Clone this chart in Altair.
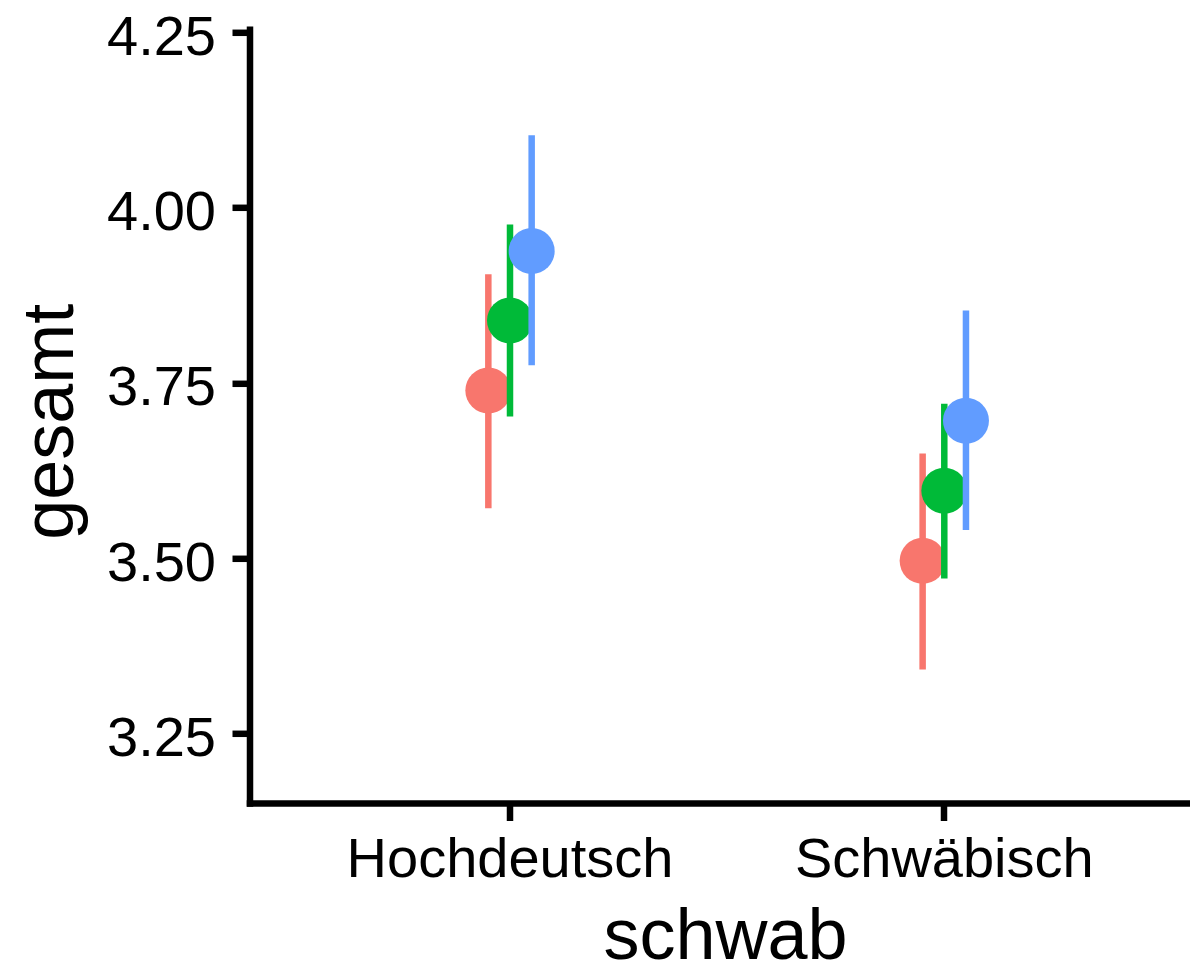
import altair as alt
import pandas as pd

categories = ["Hochdeutsch", "Schwäbisch"]
groups = ["1", "2", "3"]
colors = ["#F8766D", "#00BA38", "#619CFF"]

means = {"1": [3.739, 3.496], "2": [3.839, 3.596], "3": [3.938, 3.696]}
lows = {"1": [3.571, 3.341], "2": [3.702, 3.471], "3": [3.775, 3.540]}
highs = {"1": [3.905, 3.649], "2": [3.976, 3.720], "3": [4.103, 3.853]}

y_ticks = [3.25, 3.50, 3.75, 4.00, 4.25]

rows = []
for g in groups:
    for i, c in enumerate(categories):
        rows.append({"schwab": c, "group": g, "mean": means[g][i],
                     "low": lows[g][i], "high": highs[g][i]})
df = pd.DataFrame(rows)

FONT = "Liberation Sans"

x_enc = alt.X(
    "schwab:N",
    sort=categories,
    scale=alt.Scale(type="band", paddingInner=0.85033, paddingOuter=0.50795,
                    align=0.51677, round=False),
    axis=alt.Axis(
        title="schwab", labelAngle=0, labelFontSize=56, labelPadding=12,
        labelLimit=0, labelOverlap=False,
        tickSize=17.5, tickWidth=6.5, domainWidth=6.5, domainCap="square",
        titleFontSize=72, titleBaseline="alphabetic", titleX=475.5, titleY=155.3,
        grid=False,
    ),
)
xoff_enc = alt.XOffset("group:N", scale=alt.Scale(domain=groups))
y_scale = alt.Scale(domain=[3.1506, 4.2543], nice=False, zero=False)
y_axis = alt.Axis(
    title="gesamt", values=y_ticks, format=".2f", labelFontSize=56,
    labelPadding=16.5, labelOffset=5, tickSize=17.5, tickWidth=6.5,
    domainWidth=6.5, domainCap="square", titleFontSize=72, titleAngle=270,
    titleBaseline="alphabetic", titleAlign="center", titleX=-177.5, titleY=392,
    grid=False, labelLimit=0,
)
color_enc = alt.Color("group:N", scale=alt.Scale(domain=groups, range=colors), legend=None)

layers = []
for g in groups:
    base = alt.Chart(df).transform_filter(alt.datum.group == g)
    layers.append(
        base.mark_rule(strokeWidth=6.5).encode(
            x=x_enc, xOffset=xoff_enc,
            y=alt.Y("low:Q", scale=y_scale, axis=y_axis), y2="high:Q",
            color=color_enc,
        )
    )
    layers.append(
        base.mark_circle(size=2116, opacity=1).encode(
            x=x_enc, xOffset=xoff_enc,
            y=alt.Y("mean:Q", scale=y_scale, axis=y_axis),
            color=color_enc,
        )
    )

chart = alt.layer(*layers).properties(
    width=940.5, height=773.7,
    padding={"left": 241.5, "top": 21.3, "right": 0, "bottom": 159},
    autosize=alt.AutoSizeParams(type="none"),
    background="white",
).configure_view(stroke=None).configure_axis(
    labelFont=FONT, titleFont=FONT, labelColor="black", titleColor="black",
    domainColor="black", tickColor="black", titleFontWeight="normal",
)

chart.save("out.html", embed_options={"renderer": "svg", "actions": False})
